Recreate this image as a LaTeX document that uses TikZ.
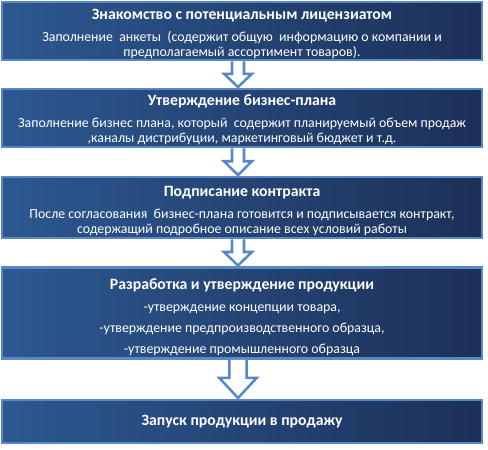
\documentclass[tikz,border=0pt]{standalone}
\usepackage{fontspec}
\setmainfont{Carlito}
\usetikzlibrary{calc}

\definecolor{edgeblue}{RGB}{88,136,198}
\definecolor{boxleft}{RGB}{45,88,145}
\definecolor{boxright}{RGB}{28,48,88}

\newcommand{\stagetitle}[2][0pt]{{\bfseries\fontsize{11.8pt}{12pt}\selectfont\rule{0pt}{#1}#2}}

\begin{document}
\begin{tikzpicture}[
    x=0.75pt, y=-0.75pt,
    stage/.style={draw=edgeblue, line width=2.1pt, left color=boxleft, right color=boxright,
        text=white, align=center, minimum width=360pt, inner sep=0pt, outer sep=0pt,
        font=\fontsize{10.4pt}{11.25pt}\selectfont},
    hollow/.style 2 args={draw=edgeblue, line width=1.9pt, fill=white, line join=miter,
        to path={let \p1=(\tikztostart), \p2=(\tikztotarget),
            \p3=($(\tikztostart)!0.45!(\tikztotarget)$) in
            (\x1-#1,\y1) -- (\x1-#1,\y3) -- (\x1-#2,\y3) -- (\x1,\y2+1.5pt)
            -- (\x1+#2,\y3) -- (\x1+#1,\y3) -- (\x1+#1,\y1)}}
]
\useasboundingbox (0,0) rectangle (488,449);

% stages
\node[stage, minimum height=43.5pt] (meet) at (242,31)
    {\stagetitle[11.5pt]{Знакомство с потенциальным лицензиатом}\\[5.25pt]
     Заполнение \ анкеты \ (содержит общую \ информацию о компании и\\
     предполагаемый ассортимент товаров).};
\node[stage, minimum height=43.5pt] (plan) at (242,118)
    {\stagetitle[10pt]{Утверждение бизнес-плана}\\[5.25pt]
     Заполнение бизнес плана, который \ содержит планируемый объем продаж\\
     ,каналы дистрибуции, маркетинговый бюджет и т.д.};
\node[stage, minimum height=45.75pt] (contract) at (242,207.5)
    {\stagetitle[13pt]{Подписание контракта}\\[5.25pt]
     После согласования \ бизнес-плана готовится и подписывается контракт,\\
     содержащий подробное описание всех условий работы};
\node[stage, minimum height=68.25pt] (product) at (242,313)
    {\stagetitle[15pt]{Разработка и утверждение продукции}\\[5.25pt]
     -утверждение концепции товара,\\[4.5pt]
     -утверждение предпроизводственного образца,\\[4.5pt]
     -утверждение промышленного образца};
\node[stage, minimum height=32.25pt] (launch) at (242,421.5)
    {\stagetitle{Запуск продукции в продажу}};

% block arrows
\draw[hollow={4.5pt}{10.5pt}] ([xshift=-3pt,yshift=-1pt]meet.south) to ([xshift=-3pt]plan.north);
\draw[hollow={4.5pt}{10.5pt}] ([xshift=-3pt,yshift=-1pt]plan.south) to ([xshift=-3pt]contract.north);
\draw[hollow={4.5pt}{10.5pt}] ([xshift=-3pt,yshift=-1pt]contract.south) to ([xshift=-3pt]product.north);
\draw[hollow={6.5pt}{14pt}] ([xshift=-3pt,yshift=-1pt]product.south) to ([xshift=-3pt]launch.north);
\end{tikzpicture}
\end{document}
